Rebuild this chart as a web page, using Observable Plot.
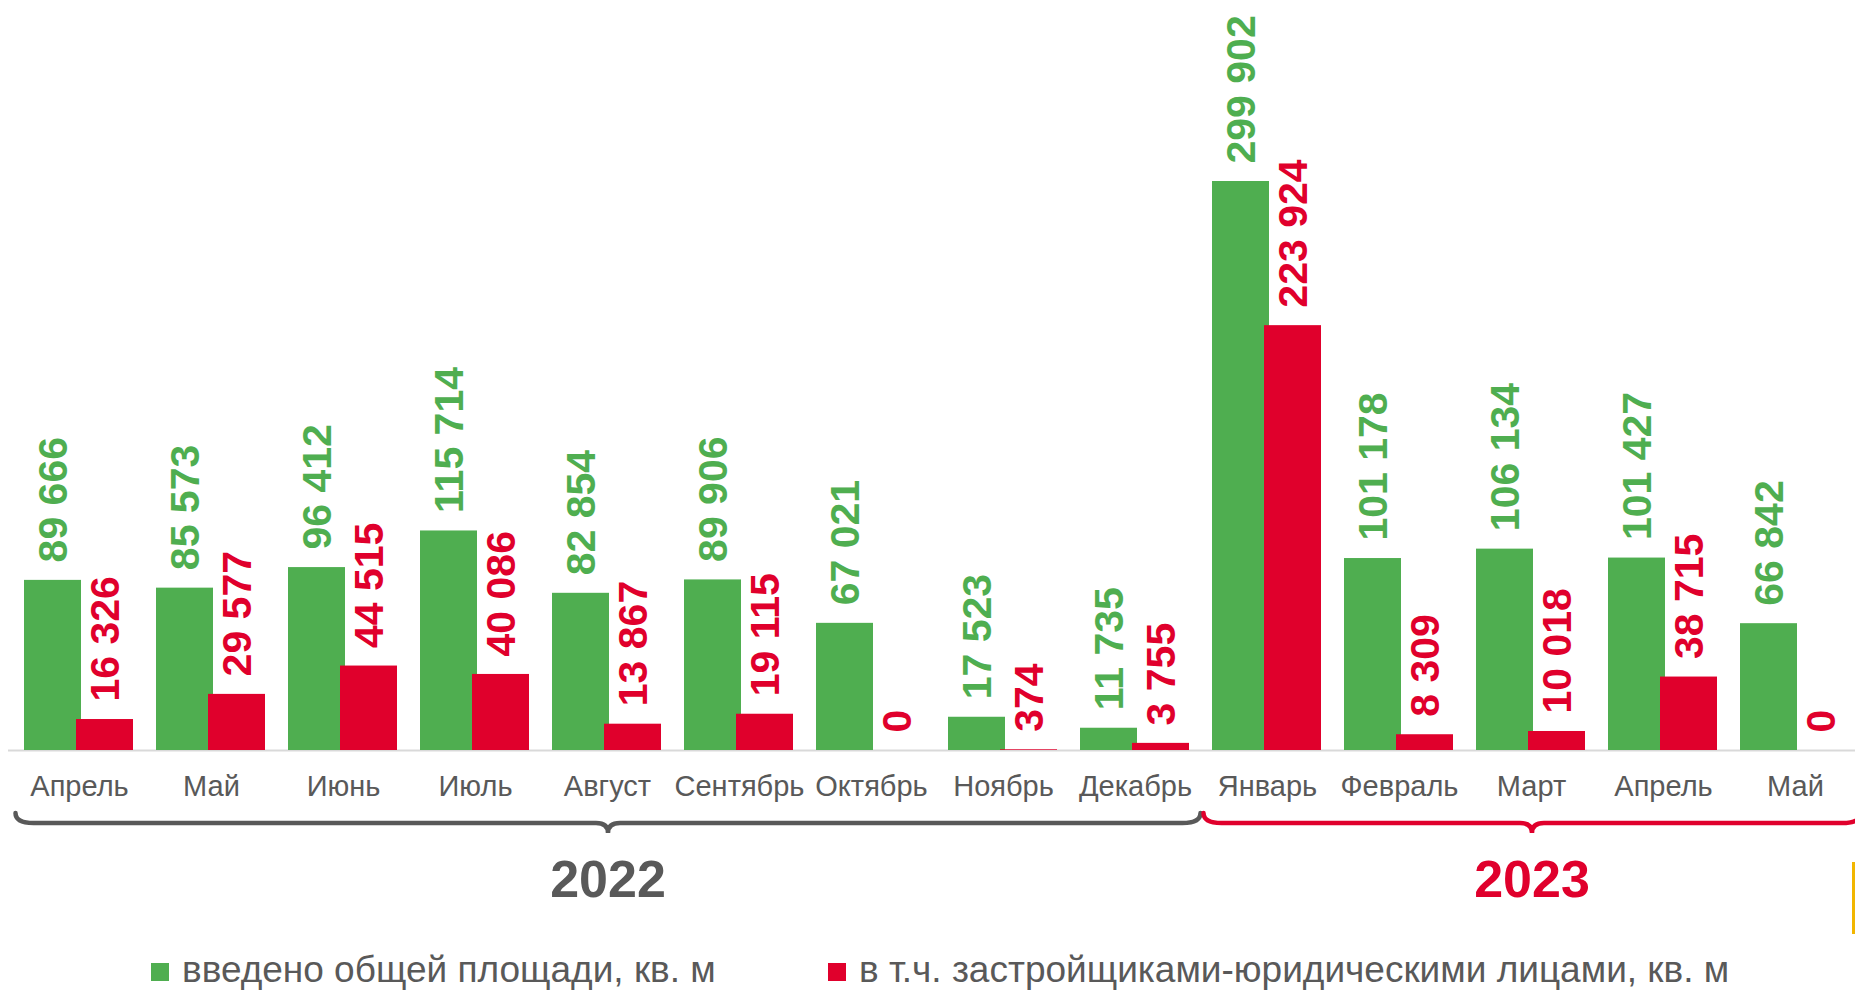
<!DOCTYPE html>
<html>
<head>
<meta charset="utf-8">
<script src="https://cdn.jsdelivr.net/npm/d3@7"></script>
<script src="https://cdn.jsdelivr.net/npm/@observablehq/plot@0.6"></script>
<style>
  html, body { margin: 0; padding: 0; background: #ffffff; }
  body { width: 1855px; height: 991px; overflow: hidden; position: relative;
         font-family: "Liberation Sans", Arial, sans-serif; }
  #chart { position: absolute; left: 0; top: 0; }
  .legend-item { position: absolute; display: flex; align-items: center;
                 font-size: 37px; line-height: 1; color: #595959; white-space: nowrap; }
  .legend-item .sw { width: 18px; height: 18px; margin-right: 13px; margin-top: 4px; }
  #edge { position: absolute; left: 1852px; top: 862px; width: 3px; height: 72px; background: #F2B600; }
</style>
</head>
<body>
<div id="chart"></div>
<div id="legend"></div>
<div id="edge"></div>
<script>
// ---- data ----
const monthKeys = ["2022-04","2022-05","2022-06","2022-07","2022-08","2022-09","2022-10","2022-11","2022-12","2023-01","2023-02","2023-03","2023-04","2023-05"];
const monthLabels = ["Апрель","Май","Июнь","Июль","Август","Сентябрь","Октябрь","Ноябрь","Декабрь","Январь","Февраль","Март","Апрель","Май"];
const totalArea = [89666, 85573, 96412, 115714, 82854, 89906, 67021, 17523, 11735, 299902, 101178, 106134, 101427, 66842];
const legalEntities = [16326, 29577, 44515, 40086, 13867, 19115, 0, 374, 3755, 223924, 8309, 10018, 38715, 0];
const years = ["2022", "2023"];
const yearFirstMonth = ["2022-04", "2023-01"];
const yearLastMonth = ["2022-12", "2023-05"];
const seriesNames = ["введено общей площади, кв. м", "в т.ч. застройщиками-юридическими лицами, кв. м"];
const seriesColors = ["#4FAE50", "#E0002C"];
const yearColors = ["#595959", "#E0002C"];
const textGray = "#595959";

// ---- build ----
const rows = monthKeys.map((k, i) => ({key: k, label: monthLabels[i], total: totalArea[i], legal: legalEntities[i]}));
const fmt = d3.formatLocale({decimal: ",", thousands: " ", grouping: [3], currency: ["", ""]}).format(",");

const W = 1855, H = 920, MB = 170, MT = 181;

const plot = Plot.plot({
  width: W,
  height: H,
  marginTop: MT,
  marginBottom: MB,
  marginLeft: 8,
  marginRight: 0,
  style: {fontFamily: '"Liberation Sans", Arial, sans-serif', background: "transparent", overflow: "visible"},
  x: {domain: monthKeys, range: [9, 1864.7], padding: 0, axis: null},
  y: {domain: [0, d3.max(totalArea)], axis: null},
  marks: [
    Plot.ruleY([0], {stroke: "#D9D9D9", strokeWidth: 2}),
    Plot.barY(rows, {x: "key", y: "total", fill: seriesColors[0], insetLeft: 11, insetRight: 64}),
    Plot.barY(rows, {x: "key", y: "legal", fill: seriesColors[1], insetLeft: 63, insetRight: 12}),
    Plot.text(rows, {x: "key", y: "total", text: d => fmt(d.total), rotate: -90, textAnchor: "start",
      dx: -26, dy: -18, fill: seriesColors[0], fontSize: 41, fontWeight: "bold"}),
    Plot.text(rows, {x: "key", y: "legal", text: d => fmt(d.legal), rotate: -90, textAnchor: "start",
      dx: 26, dy: -18, fill: seriesColors[1], fontSize: 41, fontWeight: "bold"}),
    Plot.text(rows, {x: "key", text: "label", frameAnchor: "bottom", dy: 45, fill: textGray, fontSize: 29})
  ]
});

document.getElementById("chart").appendChild(plot);

// ---- braces and year labels from the x scale ----
const xs = plot.scale("x");
const bw = xs.bandwidth;
const bandStart = k => (typeof xs.apply === "function") ? xs.apply(k) : (xs.range[0] + monthKeys.indexOf(k) * bw);
const base = H - MB;
const svg = d3.select(plot);
years.forEach((yr, i) => {
  const x0 = bandStart(yearFirstMonth[i]) + 2.5;
  const x1 = bandStart(yearLastMonth[i]) + bw - 0.5;
  const xm = (x0 + x1) / 2;
  const y0 = base + 63, y1 = base + 73, y2 = base + 83, r = 18, r2 = 12;
  const p = d3.path();
  p.moveTo(x0, y0);
  p.quadraticCurveTo(x0, y1, x0 + r, y1);
  p.lineTo(xm - r2, y1);
  p.quadraticCurveTo(xm, y1, xm, y2);
  p.quadraticCurveTo(xm, y1, xm + r2, y1);
  p.lineTo(x1 - r, y1);
  p.quadraticCurveTo(x1, y1, x1, y0);
  svg.append("path").attr("d", p.toString()).attr("fill", "none")
    .attr("stroke", yearColors[i]).attr("stroke-width", 4.5).attr("stroke-linecap", "round");
  svg.append("text").attr("x", xm).attr("y", base + 128).attr("text-anchor", "middle")
    .attr("dy", "0.36em").attr("fill", yearColors[i]).attr("font-size", 52).attr("font-weight", "bold")
    .attr("font-family", '"Liberation Sans", Arial, sans-serif').text(yr);
});

// ---- legend ----
const legend = document.getElementById("legend");
const legendLeft = [151, 828];
seriesNames.forEach((name, i) => {
  const item = document.createElement("div");
  item.className = "legend-item";
  item.style.left = legendLeft[i] + "px";
  item.style.top = "951px";
  const sw = document.createElement("span");
  sw.className = "sw";
  sw.style.background = seriesColors[i];
  const tx = document.createElement("span");
  tx.textContent = name;
  item.appendChild(sw);
  item.appendChild(tx);
  legend.appendChild(item);
});
</script>
</body>
</html>
